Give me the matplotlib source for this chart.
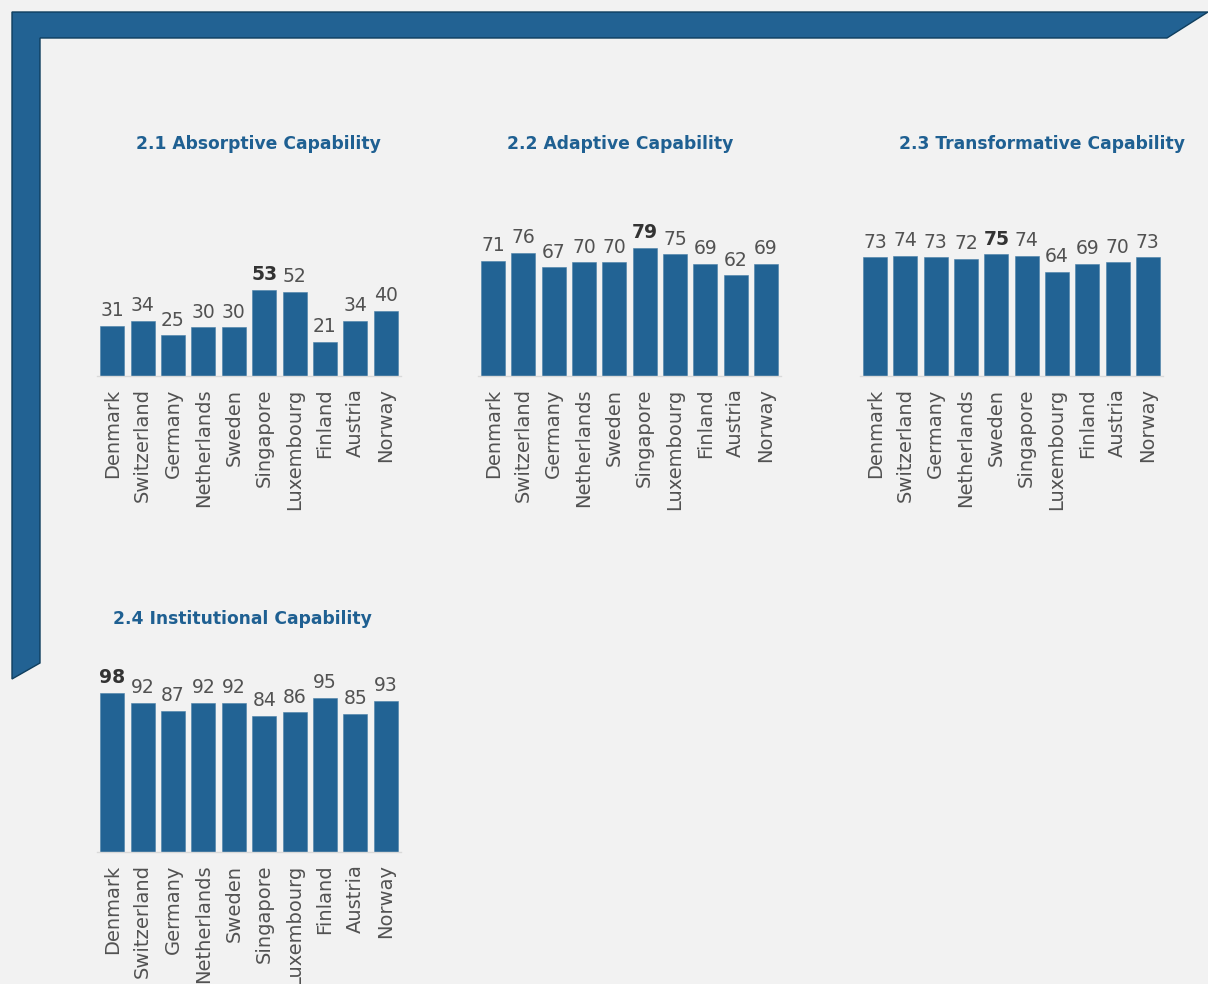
import matplotlib
matplotlib.use("Agg")
import matplotlib.pyplot as plt
from matplotlib.patches import Polygon

countries = ["Denmark", "Switzerland", "Germany", "Netherlands", "Sweden",
             "Singapore", "Luxembourg", "Finland", "Austria", "Norway"]

absorptive = [31, 34, 25, 30, 30, 53, 52, 21, 34, 40]
adaptive = [71, 76, 67, 70, 70, 79, 75, 69, 62, 69]
transformative = [73, 74, 73, 72, 75, 74, 64, 69, 70, 73]
institutional = [98, 92, 87, 92, 92, 84, 86, 95, 85, 93]

titles = ["2.1 Absorptive Capability", "2.2 Adaptive Capability",
          "2.3 Transformative Capability", "2.4 Institutional Capability"]
series = [absorptive, adaptive, transformative, institutional]

W, H = 1208, 984
BG = "#f2f2f2"
BAR = "#226394"
FRAME = "#226293"
FRAME_EDGE = "#0f3e5e"
TITLE_C = "#1f6092"
TEXT_C = "#525252"
BOLD_C = "#333333"

plt.rcParams["font.family"] = ["DejaVu Sans"]

fig = plt.figure(figsize=(W / 100, H / 100), dpi=100, facecolor=BG)


def fx(x):
    return x / W


def fy(y):
    return 1 - y / H


# blue corner frame
frame_px = [(12, 12), (1208, 12), (1167, 38), (40, 38), (40, 663), (12, 679)]
fig.patches.append(Polygon([(fx(x), fy(y)) for x, y in frame_px], closed=True,
                           transform=fig.transFigure, facecolor=FRAME,
                           edgecolor=FRAME_EDGE, linewidth=1.0, zorder=0))

# panel boxes in pixels: left, right, baseline ; title centre x, y
panels = [
    (97, 401, 376, 258, 144),
    (478, 781, 376, 620, 144),
    (860, 1163, 376, 1042, 144),
    (97, 401, 852, 242, 619),
]
px_per_unit = 1.625
ymax = 100

for (left, right, base, tx, ty), title, vals in zip(panels, titles, series):
    height_px = px_per_unit * ymax
    ax = fig.add_axes([fx(left), fy(base), (right - left) / W, height_px / H])
    ax.set_facecolor("none")
    xs = list(range(len(countries)))
    ax.bar(xs, vals, width=0.79, color=BAR, edgecolor="#4a7fa8", linewidth=0.4)
    ax.set_xlim(-0.5, len(countries) - 0.5)
    ax.set_ylim(0, ymax)
    ax.set_xticks(xs)
    ax.set_xticklabels(countries, rotation=90, fontsize=14, color=TEXT_C)
    ax.tick_params(axis="x", length=0, pad=9)
    ax.set_yticks([])
    for s in ("top", "right", "left"):
        ax.spines[s].set_visible(False)
    ax.spines["bottom"].set_color("#d9d9d9")
    ax.spines["bottom"].set_linewidth(1.0)
    top = max(vals)
    for x, v in zip(xs, vals):
        is_top = v == top
        ax.annotate(str(v), (x, v), xytext=(0, 4), textcoords="offset points",
                    ha="center", va="bottom", fontsize=13.5,
                    color=BOLD_C if is_top else TEXT_C,
                    fontweight="bold" if is_top else "normal",
                    annotation_clip=False)
    fig.text(fx(tx), fy(ty), title, ha="center", va="center", fontsize=12.3,
             fontweight="bold", color=TITLE_C)

fig.savefig("out.png", dpi=100, facecolor=BG)
